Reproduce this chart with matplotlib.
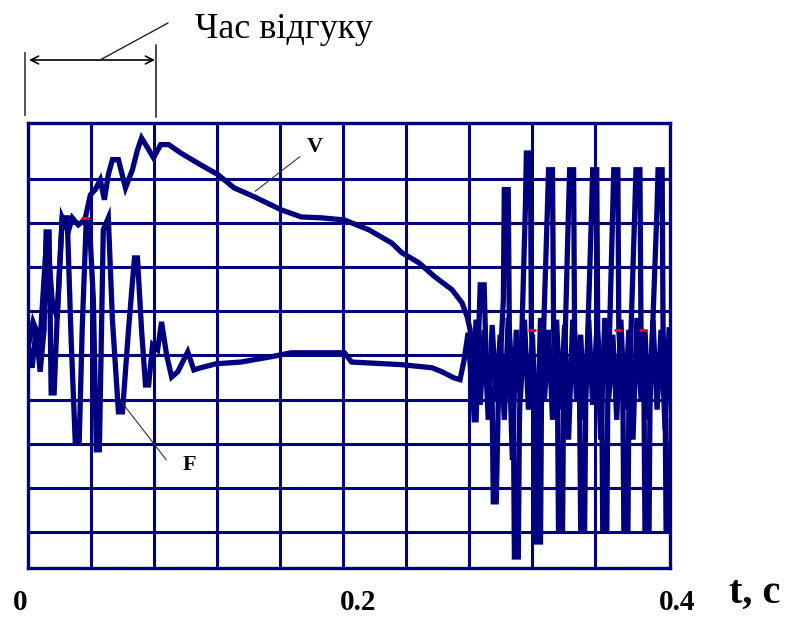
import numpy as np
import matplotlib.pyplot as plt

# ── Data (t in seconds, signal in grid divisions) ───────────────────────────
v_t = [0.0, 0.0032, 0.0077, 0.0121, 0.0153, 0.0185, 0.0217, 0.0255, 0.0281, 0.0319,
       0.0344, 0.0364, 0.0396, 0.0427, 0.0459, 0.0485, 0.0510, 0.0536, 0.0574, 0.0619,
       0.0663, 0.0695, 0.0721, 0.0759, 0.0797, 0.0842, 0.0893, 0.0970, 0.1097, 0.1206,
       0.1308, 0.1435, 0.1608, 0.1735, 0.1863, 0.2010, 0.2163, 0.2309, 0.2373, 0.2482,
       0.2584, 0.2692, 0.2756, 0.2788, 0.2807,
       # after t ~ 0.28: spikes
       0.2820, 0.2833, 0.2845, 0.2858, 0.2871, 0.2896, 0.2909,
       0.2947, 0.2954, 0.2973, 0.2986, 0.3018, 0.3024, 0.3049, 0.3056,
       0.3081, 0.3088, 0.3113, 0.3120, 0.3158, 0.3164, 0.3190, 0.3196,
       0.3222, 0.3228, 0.3254, 0.3260, 0.3298, 0.3305, 0.3330, 0.3337,
       0.3362, 0.3368, 0.3394, 0.3400, 0.3432, 0.3439, 0.3464, 0.3470,
       0.3502, 0.3509, 0.3534, 0.3541, 0.3579, 0.3585, 0.3611, 0.3617,
       0.3643, 0.3649, 0.3675, 0.3681, 0.3713, 0.3719, 0.3745, 0.3751,
       0.3777, 0.3783, 0.3809, 0.3815, 0.3853, 0.3860, 0.3885, 0.3892,
       0.3911, 0.3917, 0.3943, 0.3949, 0.3994, 0.4000, 0.4026, 0.4032,
       0.4045, 0.4051, 0.4077, 0.4083]
v_val = [4.17, 4.76, 4.35, 6.80, 5.26, 4.85, 7.12, 6.80, 7.12, 6.96,
         7.03, 7.12, 7.64, 7.76, 7.98, 7.53, 8.10, 8.44, 8.44, 7.80,
         8.21, 8.66, 8.93, 8.71, 8.48, 8.78, 8.78, 8.59, 8.32, 8.10,
         7.80, 7.60, 7.30, 7.14, 7.12, 7.07, 6.85, 6.55, 6.33, 6.10,
         5.78, 5.49, 5.19, 4.88, 4.58,
         3.45, 2.54, 2.54, 4.13, 5.60, 5.60, 3.90,
         2.99, 0.68, 0.68, 2.99, 5.26, 7.76, 7.76, 4.58,
         2.99, -0.57, -0.57, 2.54, 7.37, 8.59, 8.59, 4.58,
         2.99, -0.23, -0.23, 2.99, 7.37, 8.21, 8.21, 4.58,
         2.99, 0.05, 0.05, 2.99, 7.37, 8.21, 8.21, 4.58,
         2.99, 0.05, 0.05, 2.99, 7.37, 8.21, 8.21, 4.58,
         2.99, 0.05, 0.05, 2.99, 7.37, 8.21, 8.21, 4.58,
         2.99, 0.05, 0.05, 2.99, 7.37, 8.21, 8.21, 4.58,
         2.99, 0.05, 0.05, 2.99, 7.37, 8.21, 8.21, 4.58,
         2.99, 0.05, 0.05, 2.54]

f_t = [0.0, 0.0026, 0.0051, 0.0077, 0.0102, 0.0115, 0.0134, 0.0147, 0.0166, 0.0185,
       0.0217, 0.0249, 0.0274, 0.0300, 0.0325, 0.0344, 0.0370, 0.0389, 0.0415, 0.0434,
       0.0453, 0.0478, 0.0510, 0.0536, 0.0574, 0.0600, 0.0638, 0.0676, 0.0695, 0.0721,
       0.0746, 0.0766, 0.0791, 0.0823, 0.0848, 0.0880, 0.0912, 0.0951, 0.1014, 0.1053,
       0.1097, 0.1193, 0.1352, 0.1544, 0.1671, 0.2010, 0.2054, 0.2373, 0.2565, 0.2628,
       0.2705, 0.2743, 0.2769,
       0.2794, 0.2820, 0.2845, 0.2871, 0.2896, 0.2922, 0.2947, 0.2973, 0.2998, 0.3024,
       0.3049, 0.3075, 0.3100, 0.3126, 0.3152, 0.3177, 0.3203, 0.3228, 0.3254, 0.3279,
       0.3305, 0.3330, 0.3356, 0.3381, 0.3407, 0.3432, 0.3458, 0.3483, 0.3509, 0.3534,
       0.3560, 0.3585, 0.3611, 0.3636, 0.3662, 0.3687, 0.3713, 0.3738, 0.3764, 0.3789,
       0.3815, 0.3841, 0.3866, 0.3892, 0.3917, 0.3943, 0.3968, 0.3994, 0.4019, 0.4045,
       0.4070]
f_val = [4.24, 3.72, 4.58, 3.63, 4.58, 6.80, 6.80, 3.15, 3.15, 4.85,
         7.12, 7.12, 4.35, 2.04, 2.04, 4.58, 7.07, 7.07, 5.26, 1.86,
         1.86, 6.85, 7.12, 4.81, 2.72, 2.72, 4.58, 6.21, 6.21, 4.58,
         3.33, 3.33, 4.24, 4.13, 4.76, 4.01, 3.51, 3.63, 4.08, 3.67,
         3.72, 3.81, 3.85, 3.97, 4.06, 4.06, 3.85, 3.79, 3.72, 3.63,
         3.49, 3.45, 3.90,
         4.51, 3.11, 4.81, 2.88, 4.58, 2.54, 4.69, 2.99, 4.47, 2.54,
         4.85, 1.63, 4.58, 2.99, 4.81, 2.77, 4.47, 1.41, 4.85, 2.99,
         4.58, 2.54, 4.81, 2.77, 4.69, 2.09, 4.81, 2.99, 4.47, 2.54,
         4.81, 2.88, 4.58, 2.09, 4.85, 2.99, 4.47, 2.54, 4.81, 2.77,
         4.58, 2.09, 4.85, 2.99, 4.58, 2.54, 4.81, 2.77, 4.58, 2.31,
         4.58]

red_t = [0.0364, 0.3203, 0.3745, 0.3904]
red_val = [7.12, 4.58, 4.58, 4.58]

x_ticks = ["0", "0.2", "0.4"]

NAVY = "#00007f"
SERIF = ["Liberation Serif", "DejaVu Serif"]

# ── Figure ──────────────────────────────────────────────────────────────────
fig = plt.figure(figsize=(7.85, 6.17), dpi=100)
ax = fig.add_axes([28 / 785, 1 - 568 / 617, 642 / 785, 445 / 617])

ax.set_xlim(0, 0.4076)
ax.set_ylim(-0.82, 9.27)
ax.set_xticks(np.arange(0.04, 0.37, 0.04))
ax.set_yticks(np.arange(0, 9, 1))
ax.tick_params(length=0, labelbottom=False, labelleft=False)
ax.grid(True, color=NAVY, lw=2.2)
ax.set_axisbelow(True)
for s in ax.spines.values():
    s.set_color(NAVY)
    s.set_linewidth(2.4)

ax.plot(f_t, f_val, color=NAVY, lw=3.8, solid_joinstyle="miter", zorder=3)
ax.plot(v_t, v_val, color=NAVY, lw=3.8, solid_joinstyle="miter", zorder=3)
ax.plot(red_t, red_val, ls="none", marker="_", ms=6, mew=2, color="red", zorder=4)

# ── Labels ──────────────────────────────────────────────────────────────────
bold = dict(family=SERIF, fontweight="bold", color="black")
for lab, xp in zip(x_ticks, [20, 358, 677]):
    fig.text(xp / 785, 7 / 617, lab, ha="center", va="baseline", fontsize=21, **bold)
fig.text(755 / 785, 14 / 617, "t, с", ha="center", va="baseline", fontsize=29, **bold)

fig.text(315 / 785, 465 / 617, "V", ha="center", va="baseline", fontsize=16, **bold)
fig.text(189 / 785, 147 / 617, "F", ha="center", va="baseline", fontsize=16, **bold)
ax.annotate("", xy=(302, 617 - 155), xytext=(253, 617 - 193), xycoords="figure pixels",
            arrowprops=dict(arrowstyle="-", color="#333333", lw=0.8))
ax.annotate("", xy=(168, 617 - 462), xytext=(120, 617 - 400), xycoords="figure pixels",
            arrowprops=dict(arrowstyle="-", color="#333333", lw=0.8))

# response time marker
fig.text(195 / 785, 579 / 617, "Час відгуку", ha="left", va="baseline",
         fontsize=26, family=SERIF, color="black")
ax.annotate("", xy=(25, 617 - 118), xytext=(25, 617 - 50), xycoords="figure pixels",
            arrowprops=dict(arrowstyle="-", color="#555555", lw=1.4))
ax.annotate("", xy=(156, 617 - 120), xytext=(156, 617 - 42), xycoords="figure pixels",
            arrowprops=dict(arrowstyle="-", color="black", lw=1.0))
ax.annotate("", xy=(155, 617 - 60), xytext=(29, 617 - 60), xycoords="figure pixels",
            arrowprops=dict(arrowstyle="<->", color="black", lw=1.2, mutation_scale=14,
                            shrinkA=0, shrinkB=0))
ax.annotate("", xy=(168, 617 - 23), xytext=(100, 617 - 60), xycoords="figure pixels",
            arrowprops=dict(arrowstyle="-", color="#222222", lw=1.0, shrinkA=0, shrinkB=0))

fig.savefig("out.png", dpi=100)
